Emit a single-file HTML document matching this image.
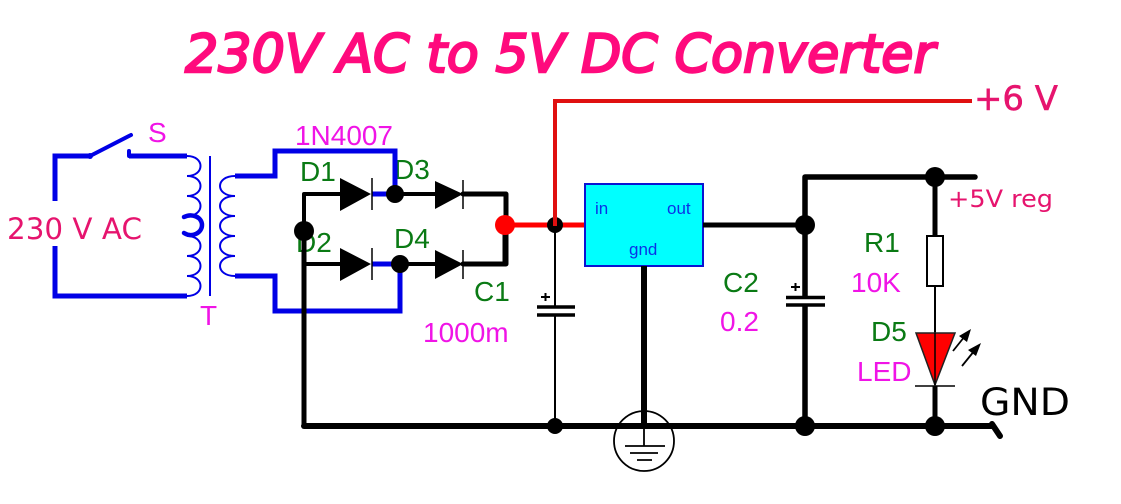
<!DOCTYPE html>
<html><head><meta charset="utf-8"><style>
html,body{margin:0;padding:0;background:#fff;width:1121px;height:504px;overflow:hidden}
svg{display:block}
.a{font-family:"Liberation Sans",sans-serif;font-size:28px}
.g{fill:#0a7a14}.m{fill:#f014e6}
.p{fill:#e6146e;font-family:"DejaVu Sans",sans-serif}
.b{fill:none;stroke:#0000e6;stroke-linejoin:miter}
.k{fill:none;stroke:#000;stroke-linejoin:round;stroke-linecap:round}
</style></head><body>
<svg width="1121" height="504" viewBox="0 0 1121 504" xmlns="http://www.w3.org/2000/svg">
<text x="185" y="72" textLength="750" lengthAdjust="spacingAndGlyphs" font-family="DejaVu Sans" font-style="italic" font-size="53" fill="#ff0a7d" stroke="#ff0a7d" stroke-width="2.400">230V AC to 5V DC Converter</text>

<!-- labels behind wires -->
<text x="394" y="179" class="a g">D3</text>
<text x="296" y="252" class="a g">D2</text>

<!-- blue wiring -->
<path class="b" stroke-width="5" d="M55 201V156H90M129 156H187M55 246V296H187"/>
<path class="b" stroke-width="4" stroke-linecap="round" d="M90 156L131 135M129 151V156"/>
<circle cx="90" cy="156" r="3" fill="#0000e6"/>
<path class="b" stroke-width="2" d="M187 156c18 0 18 20 0 20c18 0 18 20 0 20c18 0 18 20 0 20M187 236c18 0 18 20 0 20c18 0 18 20 0 20c18 0 18 20 0 20"/>
<path class="b" stroke-width="4.500" stroke-linecap="round" d="M184 217C192 213 202 217 202 225C202 233 192 238 184 233"/>
<path d="M210 156V296" class="b" stroke-width="2"/>
<path class="b" stroke-width="2" d="M235 176c-20 0 -20 20 0 20c-20 0 -20 20 0 20c-20 0 -20 20 0 20c-20 0 -20 20 0 20c-20 0 -20 20 0 20"/>
<path class="b" stroke-width="5" d="M235 176H275V151H395V194M235 276H275V311H400V264"/>
<path d="M372 194H395M372 264H400" class="b" stroke-width="5"/>

<!-- black wiring -->
<path class="k" stroke-width="4" d="M340 194H304V264H340M395 194H435M400 264H435"/>
<path class="k" stroke-width="5" d="M463 194H506V264H463"/>
<path class="k" stroke-width="5" d="M304 231V426"/>
<path class="k" stroke-width="6" d="M304 426H992"/>
<path class="k" stroke-width="6" d="M992 424L1000 436"/>
<!-- diodes -->
<path d="M340 178V211L371 194ZM340 248V281L371 264ZM435 181V209L463 194ZM435 250V279L463 264Z" fill="#000"/>
<path d="M372 178V210M372 248V280M463 180V209M463 250V279" stroke="#000" stroke-width="1.500" fill="none"/>
<circle cx="304" cy="231" r="10"/><circle cx="395" cy="194" r="9"/><circle cx="400" cy="264" r="9"/>

<!-- red -->
<path d="M586 225H505" stroke="#f00" stroke-width="5" stroke-linecap="round" fill="none"/>
<path d="M555 225V101H972" stroke="#e01010" stroke-width="4" fill="none"/>
<path d="M505 233V264" stroke="#000" stroke-width="5"/>
<circle cx="505" cy="225" r="10" fill="#f00"/>
<circle cx="555" cy="225" r="8"/>
<path d="M555 217V226" stroke="#e01010" stroke-width="4"/>

<!-- C1 -->
<path d="M555 226V426" stroke="#000" stroke-width="2" fill="none"/>
<rect x="537" y="308.500" width="38" height="5" fill="#fff"/>
<path d="M537 307H575M537 315H575" stroke="#000" stroke-width="3.500"/>
<path d="M541 297H550M545.500 293V301" stroke="#000" stroke-width="2"/>
<circle cx="555" cy="426" r="8"/>

<!-- regulator -->
<rect x="585" y="184" width="118" height="82" fill="#00ffff" stroke="#0a14d2" stroke-width="2"/>
<text x="595" y="214" font-family="Liberation Sans" font-size="17" fill="#0a32e6">in</text>
<text x="667" y="214" font-family="Liberation Sans" font-size="17" fill="#0a32e6">out</text>
<text x="629" y="255" font-family="Liberation Sans" font-size="17" fill="#0a32e6">gnd</text>
<path d="M703 225H805" stroke="#000" stroke-width="5"/>
<path d="M644 266V426" stroke="#000" stroke-width="6"/>
<circle cx="644" cy="441" r="30" fill="none" stroke="#000" stroke-width="1.800"/>
<path d="M644 426V446M625 446H665M630 453H658M637 460H652" stroke="#000" stroke-width="1.800" fill="none"/>

<!-- C2 -->
<path d="M975 177H805V426" class="k" stroke-width="5.500"/>
<rect x="786" y="299" width="39" height="5" fill="#fff"/>
<path d="M786 297.500H825M786 305H825" stroke="#000" stroke-width="3.500"/>
<path d="M791 287H800M795.500 283V291" stroke="#000" stroke-width="2"/>
<circle cx="805" cy="225" r="10"/><circle cx="805" cy="426" r="10"/>

<!-- right branch -->
<path d="M935 177V237" stroke="#000" stroke-width="5"/>
<rect x="927" y="236" width="16" height="50" fill="#fff" stroke="#000" stroke-width="2"/>
<path d="M935 286V385" stroke="#000" stroke-width="2"/>
<path d="M916 333H955L935 385Z" fill="#f00" stroke="#222" stroke-width="1.500"/>
<path d="M935 333V385" stroke="#000" stroke-width="1.500"/>
<path d="M915 386H955" stroke="#000" stroke-width="1.500"/>
<path d="M935 386V426" stroke="#000" stroke-width="5"/>
<path d="M953 351L969 331M962 366L979 345" stroke="#000" stroke-width="1.800" fill="none"/>
<path d="M971 329L967 342L959 336ZM981 343L976 356L968 350Z" fill="#000"/>
<circle cx="935" cy="177" r="10"/><circle cx="935" cy="426" r="10"/>

<!-- labels -->
<text x="148" y="142" class="a m">S</text>
<text x="200" y="325" class="a m">T</text>
<text x="295" y="145" class="a m" textLength="98" lengthAdjust="spacingAndGlyphs">1N4007</text>
<text x="300" y="181" class="a g">D1</text>
<text x="394" y="248" class="a g">D4</text>
<text x="474" y="301" class="a g">C1</text>
<text x="423" y="342" class="a m">1000m</text>
<text x="723" y="292" class="a g">C2</text>
<text x="720" y="331" class="a m">0.2</text>
<text x="864" y="252" class="a g">R1</text>
<text x="851" y="292" class="a m">10K</text>
<text x="871" y="341" class="a g">D5</text>
<text x="857" y="381" class="a m">LED</text>
<text x="7" y="239" class="p" font-size="29" textLength="135" lengthAdjust="spacingAndGlyphs">230 V AC</text>
<text x="974" y="110" class="p" font-size="34" textLength="84" lengthAdjust="spacingAndGlyphs" stroke="#e6146e" stroke-width="0.500">+6 V</text>
<text x="948" y="207" class="p" font-size="24" textLength="105" lengthAdjust="spacingAndGlyphs">+5V reg</text>
<text x="980" y="415" font-family="DejaVu Sans" font-size="37" fill="#000" textLength="90" lengthAdjust="spacingAndGlyphs">GND</text>
</svg>
</body></html>
